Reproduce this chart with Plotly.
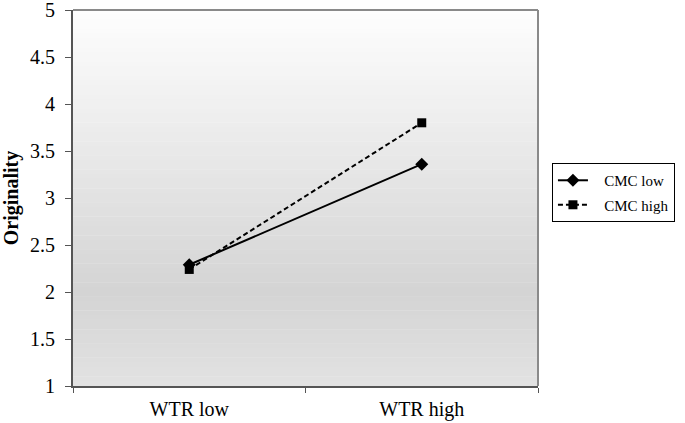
import plotly.graph_objects as go

categories = ["WTR low", "WTR high"]
cmc_low = [2.29, 3.36]
cmc_high = [2.24, 3.80]
y_ticks = [1, 1.5, 2, 2.5, 3, 3.5, 4, 4.5, 5]
y_tick_labels = ["1", "1.5", "2", "2.5", "3", "3.5", "4", "4.5", "5"]
series_names = ["CMC low", "CMC high"]

FONT = "Liberation Serif, Times New Roman, serif"
PAD = "\u00a0\u00a0\u00a0"

fig = go.Figure()
fig.add_trace(go.Scatter(
    x=categories, y=cmc_low, name=PAD + series_names[0], mode="lines+markers",
    legendgroup="a",
    line=dict(color="black", width=2),
    marker=dict(symbol="diamond", size=10, color="black"),
))
fig.add_trace(go.Scatter(
    x=categories, y=cmc_high, name=PAD + series_names[1], mode="lines+markers",
    legendgroup="b",
    line=dict(color="black", width=2, dash="5px,3px"),
    marker=dict(symbol="square", size=9, color="black"),
))

shapes = []
n = 80
def lerp(a, b, t):
    return a + (b - a) * t
for i in range(n):
    t0 = i / n
    t1 = (i + 1) / n
    tm = (t0 + t1) / 2
    if tm < 0.75:
        g = lerp(254, 212, tm / 0.75)
    else:
        g = lerp(212, 226, (tm - 0.75) / 0.25)
    g = int(round(g))
    shapes.append(dict(type="rect", xref="paper", yref="paper",
                       x0=0, x1=1, y0=1 - t1, y1=1 - t0 + 0.001,
                       fillcolor=f"rgb({g},{g},{g})", line=dict(width=0), layer="below"))
shapes.append(dict(type="line", xref="paper", yref="paper", x0=0, x1=1, y0=1, y1=1,
                   line=dict(color="#8a8a8a", width=2)))
shapes.append(dict(type="line", xref="paper", yref="paper", x0=1, x1=1, y0=0, y1=1,
                   line=dict(color="#8a8a8a", width=2)))

fig.update_layout(
    width=685, height=423,
    margin=dict(l=73, r=143, t=10, b=37),
    paper_bgcolor="white",
    plot_bgcolor="white",
    font=dict(family=FONT, size=20, color="black"),
    shapes=shapes,
    showlegend=True,
    legend=dict(x=1.03, xanchor="left", y=0.593, yanchor="top",
                bordercolor="black", borderwidth=1, bgcolor="white",
                font=dict(family=FONT, size=15), traceorder="grouped",
                tracegroupgap=2, itemwidth=30),
    xaxis=dict(
        type="category", range=[-0.5, 1.5], showgrid=False, zeroline=False,
        showline=True, linecolor="#555555", linewidth=2, automargin=False,
        ticks="outside", tickson="boundaries", ticklen=5, tickcolor="#555555",
        tickfont=dict(family=FONT, size=20), ticklabelstandoff=4,
    ),
    yaxis=dict(
        range=[1, 5], tickvals=y_ticks, ticktext=y_tick_labels, showgrid=False,
        zeroline=False, showline=True, linecolor="#555555", linewidth=2,
        ticks="outside", ticklen=6, tickcolor="#555555", automargin=False,
        tickfont=dict(family=FONT, size=20), ticklabelstandoff=6,
        ticklabeloverflow="allow",
        title=dict(text="<b>Originality</b>", font=dict(family=FONT, size=20), standoff=7),
    ),
)

fig.write_html("out.html", config={"displayModeBar": False},
               post_script="document.body.style.margin='0';document.body.style.overflow='hidden';")
